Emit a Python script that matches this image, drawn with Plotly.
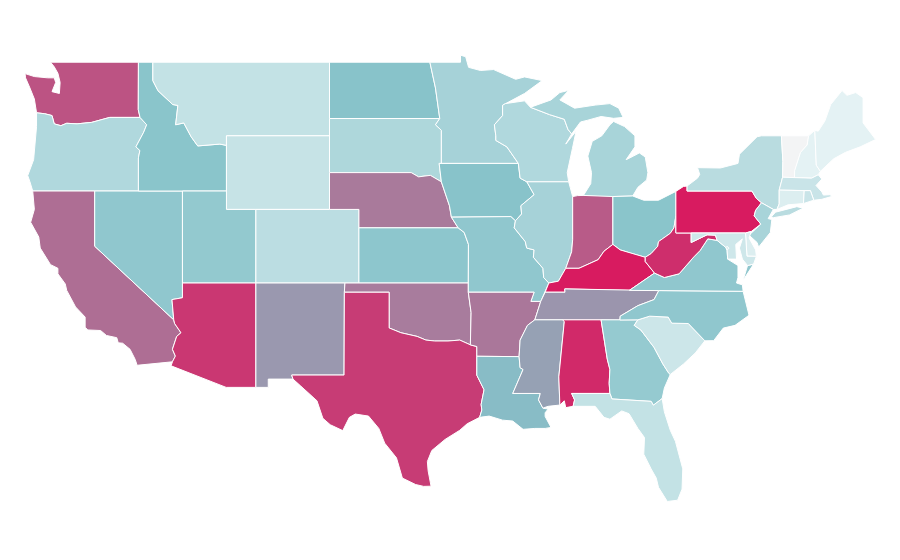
import plotly.graph_objects as go
from plotly.colors import sample_colorscale

# Map shade per state: 0 palest, 40 teal, 100 deepest pink
states = ['WA', 'OR', 'CA', 'NV', 'ID', 'MT', 'WY', 'UT', 'CO', 'AZ', 'NM', 'ND', 'SD', 'NE', 'KS', 'OK', 'TX',
          'MN', 'IA', 'MO', 'AR', 'LA', 'WI', 'IL', 'IN', 'MI', 'OH', 'KY', 'TN', 'MS', 'AL', 'GA', 'FL', 'SC',
          'NC', 'VA', 'WV', 'PA', 'NY', 'VT', 'NH', 'ME', 'MA', 'CT', 'RI', 'NJ', 'DE', 'MD', 'DC']
values = [80, 24, 70, 36, 38, 17, 16, 35, 20, 90, 55, 39, 25, 66, 37, 65, 88,
          28, 39, 36, 67, 42, 24, 28, 77, 27, 38, 100, 56, 52, 95, 34, 17, 14,
          36, 36, 93, 100, 21, 0, 5, 5, 15, 8, 15, 27, 8, 13, 8]

# Approximate state borders as (lon, lat) rings, since the map's own topojson can't be fetched offline
state_outlines = {
    'WA': [[(-123.0,49.0),(-117.03,49.0),(-117.04,46.42),(-116.92,46.0),(-118.98,46.0),(-119.3,45.93),(-120.2,45.73),(-121.2,45.65),(-121.9,45.68),(-122.3,45.55),(-122.75,45.65),(-122.9,46.1),(-123.4,46.2),(-123.95,46.25),(-124.05,46.7),(-124.1,47.0),(-124.4,47.6),(-124.7,48.15),(-124.73,48.38),(-124.1,48.22),(-123.2,48.15),(-122.75,48.15),(-122.65,47.9),(-122.9,47.4),(-122.4,47.3),(-122.35,47.9),(-122.5,48.4),(-122.75,48.75)]],
    'OR': [[(-123.95,46.25),(-123.4,46.2),(-122.9,46.1),(-122.75,45.65),(-122.3,45.55),(-121.9,45.68),(-121.2,45.65),(-120.2,45.73),(-119.3,45.93),(-118.98,46.0),(-116.92,46.0),(-116.47,45.6),(-116.67,45.2),(-117.2,44.4),(-116.93,44.2),(-117.03,43.8),(-117.03,42.0),(-124.21,42.0),(-124.4,42.5),(-124.55,42.84),(-124.15,43.7),(-124.05,44.7),(-123.95,45.5)]],
    'CA': [[(-124.21,42.0),(-120.0,42.0),(-120.0,39.0),(-114.63,35.0),(-114.57,34.8),(-114.14,34.3),(-114.43,34.1),(-114.72,33.4),(-114.52,33.03),(-114.72,32.72),(-117.12,32.53),(-117.25,32.85),(-117.6,33.4),(-118.1,33.73),(-118.4,33.75),(-118.5,34.03),(-119.2,34.15),(-119.6,34.42),(-120.47,34.45),(-120.65,34.6),(-120.65,35.15),(-121.3,35.7),(-121.9,36.6),(-122.0,36.95),(-122.5,37.5),(-122.5,37.8),(-123.0,38.0),(-123.7,38.9),(-123.8,39.5),(-124.35,40.3),(-124.1,41.0),(-124.2,41.75)]],
    'NV': [[(-120.0,42.0),(-114.04,42.0),(-114.04,36.2),(-114.75,36.1),(-114.63,35.0),(-120.0,39.0)]],
    'ID': [[(-117.03,49.0),(-116.05,49.0),(-116.05,48.0),(-115.7,47.45),(-114.7,46.7),(-114.35,46.65),(-114.5,45.6),(-113.95,45.7),(-113.45,44.95),(-113.0,44.45),(-111.5,44.55),(-111.05,44.48),(-111.05,42.0),(-114.04,42.0),(-117.03,42.0),(-117.03,43.8),(-116.93,44.2),(-117.2,44.4),(-116.67,45.2),(-116.47,45.6),(-116.92,46.0),(-117.04,46.42)]],
    'MT': [[(-116.05,49.0),(-104.05,49.0),(-104.05,45.0),(-111.05,45.0),(-111.05,44.48),(-111.5,44.55),(-113.0,44.45),(-113.45,44.95),(-113.95,45.7),(-114.5,45.6),(-114.35,46.65),(-114.7,46.7),(-115.7,47.45),(-116.05,48.0)]],
    'WY': [[(-111.05,45.0),(-104.05,45.0),(-104.05,41.0),(-111.05,41.0)]],
    'UT': [[(-114.04,42.0),(-111.05,42.0),(-111.05,41.0),(-109.05,41.0),(-109.05,37.0),(-114.04,37.0)]],
    'CO': [[(-109.05,41.0),(-102.05,41.0),(-102.05,37.0),(-109.05,37.0)]],
    'AZ': [[(-114.75,36.1),(-114.04,36.2),(-114.04,37.0),(-109.05,37.0),(-109.05,31.33),(-111.07,31.33),(-114.81,32.5),(-114.72,32.72),(-114.52,33.03),(-114.72,33.4),(-114.43,34.1),(-114.14,34.3),(-114.57,34.8),(-114.63,35.0)]],
    'NM': [[(-109.05,37.0),(-103.0,37.0),(-103.04,36.5),(-103.06,32.0),(-106.62,32.0),(-106.53,31.78),(-108.21,31.78),(-108.21,31.33),(-109.05,31.33)]],
    'ND': [[(-104.05,49.0),(-97.23,49.0),(-96.85,47.6),(-96.56,45.94),(-104.05,45.94)]],
    'SD': [[(-104.05,45.94),(-96.56,45.94),(-96.85,45.6),(-96.45,45.3),(-96.45,43.5),(-96.6,43.5),(-96.45,42.5),(-97.2,42.85),(-98.0,42.77),(-98.5,43.0),(-104.05,43.0)]],
    'NE': [[(-104.05,43.0),(-98.5,43.0),(-98.0,42.77),(-97.2,42.85),(-96.45,42.5),(-96.1,41.7),(-95.9,41.2),(-95.77,40.58),(-95.31,40.0),(-102.05,40.0),(-102.05,41.0),(-104.05,41.0)]],
    'KS': [[(-102.05,40.0),(-95.31,40.0),(-94.9,39.75),(-94.61,39.1),(-94.62,37.0),(-102.05,37.0)]],
    'OK': [[(-103.0,37.0),(-94.62,37.0),(-94.62,36.5),(-94.43,35.4),(-94.48,33.64),(-95.2,33.9),(-96.0,33.85),(-96.9,33.85),(-97.5,33.9),(-98.1,34.1),(-99.2,34.3),(-100.0,34.56),(-100.0,36.5),(-103.04,36.5)]],
    'TX': [[(-103.04,36.5),(-100.0,36.5),(-100.0,34.56),(-99.2,34.3),(-98.1,34.1),(-97.5,33.9),(-96.9,33.85),(-96.0,33.85),(-95.2,33.9),(-94.48,33.64),(-94.04,33.55),(-94.04,33.02),(-94.04,31.99),(-93.55,31.2),(-93.75,30.4),(-93.7,30.1),(-93.85,29.7),(-94.7,29.35),(-95.2,29.0),(-96.2,28.5),(-97.1,27.9),(-97.4,27.3),(-97.35,26.8),(-97.15,25.96),(-97.65,25.95),(-98.2,26.05),(-99.1,26.4),(-99.5,27.5),(-100.3,28.3),(-100.7,29.1),(-101.4,29.77),(-102.3,29.88),(-102.7,29.7),(-103.15,28.98),(-104.0,29.3),(-104.5,29.65),(-104.9,30.6),(-106.0,31.4),(-106.53,31.78),(-106.62,32.0),(-103.06,32.0)]],
    'MN': [[(-97.23,49.0),(-95.15,49.0),(-95.15,49.38),(-94.8,49.3),(-94.6,48.72),(-93.8,48.55),(-92.9,48.6),(-92.0,48.3),(-91.4,48.07),(-90.8,48.2),(-89.6,48.0),(-90.8,47.3),(-92.1,46.75),(-92.29,46.66),(-92.29,46.1),(-92.85,45.6),(-92.75,45.0),(-92.75,44.75),(-92.0,44.4),(-91.22,43.5),(-96.45,43.5),(-96.45,45.3),(-96.85,45.6),(-96.56,45.94),(-96.85,47.6)]],
    'IA': [[(-96.6,43.5),(-91.22,43.5),(-91.1,42.7),(-90.64,42.5),(-90.15,41.8),(-91.05,41.2),(-91.0,40.75),(-91.42,40.38),(-91.73,40.61),(-95.77,40.58),(-95.9,41.2),(-96.1,41.7),(-96.45,42.5)]],
    'MO': [[(-95.77,40.58),(-91.73,40.61),(-91.42,40.38),(-91.5,40.0),(-90.75,39.25),(-90.65,38.9),(-90.15,38.8),(-90.2,38.4),(-89.55,37.8),(-89.5,37.3),(-89.15,37.0),(-89.4,36.5),(-89.7,36.0),(-90.37,36.0),(-90.15,36.5),(-94.62,36.5),(-94.62,37.0),(-94.61,39.1),(-94.9,39.75),(-95.31,40.0)]],
    'AR': [[(-94.62,36.5),(-90.15,36.5),(-90.37,36.0),(-89.7,36.0),(-90.1,35.0),(-90.6,34.7),(-91.1,33.9),(-91.17,33.0),(-94.04,33.02),(-94.04,33.55),(-94.48,33.64),(-94.43,35.4)]],
    'LA': [[(-94.04,33.02),(-91.17,33.0),(-91.1,32.4),(-90.9,32.3),(-91.6,31.0),(-89.73,31.0),(-89.85,30.65),(-89.55,30.2),(-89.2,30.15),(-89.4,29.95),(-89.4,29.75),(-89.0,29.15),(-89.4,29.1),(-90.1,29.1),(-90.9,29.05),(-91.6,29.5),(-92.3,29.55),(-93.2,29.77),(-93.85,29.7),(-93.7,30.1),(-93.75,30.4),(-93.55,31.2),(-94.04,31.99)]],
    'MS': [[(-90.1,35.0),(-88.2,35.0),(-88.1,34.9),(-88.47,31.9),(-88.4,30.37),(-89.2,30.3),(-89.55,30.2),(-89.85,30.65),(-89.73,31.0),(-91.6,31.0),(-90.9,32.3),(-91.1,32.4),(-91.17,33.0),(-91.1,33.9),(-90.6,34.7)]],
    'AL': [[(-88.2,35.0),(-85.6,35.0),(-85.18,32.87),(-85.0,32.3),(-85.05,31.55),(-85.0,31.0),(-87.6,31.0),(-87.4,30.65),(-87.5,30.3),(-88.0,30.23),(-88.1,30.6),(-88.4,30.37),(-88.47,31.9),(-88.1,34.9)]],
    'TN': [[(-90.1,35.0),(-89.7,36.0),(-89.4,36.5),(-88.05,36.5),(-88.07,36.68),(-83.68,36.6),(-81.68,36.59),(-82.0,36.1),(-83.1,35.77),(-84.3,35.2),(-84.32,34.99),(-85.6,35.0),(-88.2,35.0)]],
    'KY': [[(-89.4,36.5),(-89.15,37.0),(-88.5,37.1),(-88.0,37.8),(-87.1,37.8),(-86.5,38.0),(-85.8,38.27),(-85.4,38.73),(-84.8,39.1),(-84.3,38.8),(-83.7,38.65),(-82.6,38.4),(-82.6,38.17),(-81.97,37.54),(-83.68,36.6),(-88.07,36.68),(-88.05,36.5)]],
    'IL': [[(-91.42,40.38),(-91.0,40.75),(-91.05,41.2),(-90.15,41.8),(-90.64,42.5),(-87.8,42.5),(-87.53,41.7),(-87.53,39.35),(-87.6,38.7),(-88.0,37.8),(-88.5,37.1),(-89.15,37.0),(-89.5,37.3),(-89.55,37.8),(-90.2,38.4),(-90.15,38.8),(-90.65,38.9),(-90.75,39.25),(-91.5,40.0)]],
    'IN': [[(-87.53,41.7),(-87.2,41.75),(-86.8,41.76),(-84.8,41.76),(-84.8,39.1),(-85.4,38.73),(-85.8,38.27),(-86.5,38.0),(-87.1,37.8),(-88.0,37.8),(-87.6,38.7),(-87.53,39.35)]],
    'OH': [[(-84.8,41.7),(-83.45,41.73),(-82.7,41.5),(-81.7,41.5),(-80.52,41.98),(-80.52,40.64),(-80.65,40.0),(-80.9,39.7),(-81.7,39.25),(-81.75,39.0),(-82.2,38.6),(-82.6,38.4),(-83.7,38.65),(-84.3,38.8),(-84.8,39.1)]],
    'MI': [[(-86.8,41.76),(-84.8,41.7),(-83.45,41.73),(-83.1,42.2),(-82.5,42.6),(-82.42,43.0),(-82.6,43.85),(-83.0,44.07),(-83.4,43.9),(-83.9,43.7),(-83.3,44.4),(-83.3,45.0),(-84.0,45.5),(-84.75,45.78),(-85.0,45.6),(-85.55,45.0),(-86.2,44.7),(-86.5,43.9),(-86.25,43.0),(-86.3,42.4)],
           [(-90.4,46.55),(-89.0,46.95),(-88.4,47.35),(-87.8,47.47),(-88.4,46.95),(-87.4,46.5),(-86.0,46.67),(-85.0,46.75),(-84.4,46.5),(-84.1,46.0),(-84.75,45.95),(-85.6,46.05),(-86.5,45.85),(-87.0,45.75),(-87.6,45.1),(-87.85,45.35),(-88.1,45.9),(-89.1,46.15)]],
    'WI': [[(-92.29,46.66),(-92.1,46.75),(-90.8,46.9),(-90.4,46.55),(-89.1,46.15),(-88.1,45.9),(-87.85,45.35),(-87.6,45.1),(-88.0,44.55),(-87.3,45.25),(-87.55,44.3),(-87.9,43.0),(-87.8,42.5),(-90.64,42.5),(-91.1,42.7),(-91.22,43.5),(-92.0,44.4),(-92.75,44.75),(-92.75,45.0),(-92.85,45.6),(-92.29,46.1)]],
    'GA': [[(-85.6,35.0),(-84.32,34.99),(-83.1,35.0),(-83.35,34.7),(-82.9,34.45),(-82.0,33.5),(-81.4,32.6),(-81.0,32.1),(-80.9,32.03),(-81.3,31.3),(-81.45,30.72),(-82.05,30.36),(-82.2,30.57),(-84.86,30.7),(-85.0,31.0),(-85.05,31.55),(-85.0,32.3),(-85.18,32.87)]],
    'FL': [[(-87.6,31.0),(-85.0,31.0),(-84.86,30.7),(-82.2,30.57),(-82.05,30.36),(-81.45,30.72),(-81.3,30.0),(-80.9,29.0),(-80.55,28.4),(-80.05,26.9),(-80.1,25.8),(-80.4,25.2),(-81.1,25.13),(-81.7,25.9),(-81.85,26.4),(-82.2,26.9),(-82.7,27.7),(-82.65,28.6),(-83.1,29.1),(-83.7,29.9),(-84.2,30.05),(-85.0,29.6),(-85.4,29.7),(-86.0,30.3),(-87.5,30.3),(-87.4,30.65)]],
    'SC': [[(-83.1,35.0),(-82.3,35.2),(-81.04,35.15),(-80.8,34.82),(-79.67,34.8),(-78.55,33.86),(-79.2,33.2),(-80.0,32.6),(-80.9,32.03),(-81.0,32.1),(-81.4,32.6),(-82.0,33.5),(-82.9,34.45),(-83.35,34.7)]],
    'NC': [[(-84.32,34.99),(-83.1,35.0),(-82.3,35.2),(-81.04,35.15),(-80.8,34.82),(-79.67,34.8),(-78.55,33.86),(-77.95,33.87),(-77.3,34.55),(-76.5,34.7),(-75.55,35.25),(-75.95,36.55),(-81.68,36.59),(-82.0,36.1),(-83.1,35.77),(-84.3,35.2)]],
    'VA': [[(-83.68,36.6),(-81.97,37.54),(-81.3,37.3),(-80.3,37.5),(-79.3,38.42),(-78.87,38.77),(-78.35,39.4),(-77.72,39.32),(-77.12,38.93),(-77.04,38.79),(-77.0,38.3),(-76.3,37.95),(-76.3,37.3),(-76.4,37.0),(-76.0,36.9),(-75.95,36.55),(-81.68,36.59)],
           [(-75.95,37.15),(-75.6,37.6),(-75.24,38.03),(-75.65,37.95)]],
    'WV': [[(-82.6,38.17),(-82.6,38.4),(-82.2,38.6),(-81.75,39.0),(-81.7,39.25),(-80.9,39.7),(-80.65,40.0),(-80.52,40.64),(-80.52,39.72),(-79.48,39.72),(-79.48,39.2),(-78.4,39.62),(-77.83,39.6),(-77.72,39.32),(-78.35,39.4),(-78.87,38.77),(-79.3,38.42),(-80.3,37.5),(-81.3,37.3),(-81.97,37.54)]],
    'PA': [[(-80.52,41.98),(-80.0,42.25),(-79.76,42.27),(-79.76,42.0),(-75.35,42.0),(-75.05,41.6),(-74.7,41.36),(-75.1,40.95),(-75.2,40.65),(-74.75,40.2),(-75.4,39.8),(-75.79,39.72),(-80.52,39.72)]],
    'NY': [[(-79.76,42.27),(-79.05,42.7),(-78.9,42.9),(-79.05,43.27),(-77.5,43.25),(-76.3,43.5),(-76.2,44.0),(-75.0,44.95),(-74.7,45.0),(-73.35,45.0),(-73.25,43.6),(-73.27,42.75),(-73.5,42.05),(-73.5,41.3),(-73.65,41.0),(-73.9,41.0),(-74.7,41.36),(-75.05,41.6),(-75.35,42.0),(-79.76,42.0)],
           [(-74.03,40.6),(-73.75,40.85),(-72.3,41.15),(-71.87,41.07),(-72.8,40.7),(-73.9,40.55)]],
    'VT': [[(-73.35,45.0),(-71.5,45.0),(-71.6,44.5),(-72.05,44.1),(-72.45,43.1),(-72.46,42.73),(-73.27,42.75),(-73.25,43.6)]],
    'NH': [[(-71.5,45.0),(-71.08,45.3),(-70.98,43.4),(-70.7,43.07),(-70.85,42.88),(-71.3,42.7),(-72.46,42.73),(-72.45,43.1),(-72.05,44.1),(-71.6,44.5)]],
    'ME': [[(-71.08,45.3),(-70.85,45.25),(-70.4,45.8),(-70.0,46.7),(-69.23,47.46),(-68.9,47.2),(-68.3,47.35),(-67.8,47.07),(-67.8,45.7),(-67.45,45.3),(-66.95,44.8),(-68.0,44.4),(-69.0,44.1),(-69.8,43.75),(-70.7,43.07),(-70.98,43.4)]],
    'MA': [[(-73.27,42.75),(-71.3,42.7),(-70.85,42.88),(-70.6,42.65),(-71.0,42.3),(-70.6,41.95),(-70.5,41.78),(-70.05,41.8),(-70.2,42.08),(-69.95,41.7),(-70.6,41.55),(-71.15,41.5),(-71.38,42.02),(-71.8,42.02),(-73.5,42.05)]],
    'CT': [[(-73.5,42.05),(-71.8,42.02),(-71.85,41.32),(-72.9,41.25),(-73.65,41.0),(-73.5,41.3)]],
    'RI': [[(-71.8,42.02),(-71.38,42.02),(-71.15,41.5),(-71.85,41.32)]],
    'NJ': [[(-74.7,41.36),(-73.9,41.0),(-74.25,40.5),(-74.0,40.45),(-74.1,39.75),(-74.9,38.95),(-75.0,39.2),(-75.55,39.6),(-74.75,40.2),(-75.2,40.65),(-75.1,40.95)]],
    'DE': [[(-75.79,39.72),(-75.4,39.8),(-75.55,39.45),(-75.1,38.8),(-75.05,38.45),(-75.69,38.46)]],
    'MD': [[(-79.48,39.72),(-75.79,39.72),(-75.69,38.46),(-75.05,38.45),(-75.24,38.03),(-75.65,37.95),(-76.0,38.3),(-76.2,38.9),(-76.0,39.4),(-76.45,39.1),(-76.4,38.3),(-77.0,38.3),(-77.04,38.79),(-77.12,38.93),(-77.72,39.32),(-77.83,39.6),(-78.4,39.62),(-79.48,39.2)]],
    'DC': [[(-77.12,38.93),(-77.04,39.0),(-76.91,38.89),(-77.04,38.79)]],
}

shade_scale = [[0, '#f3f4f5'], [0.05, '#e4f2f4'], [0.4, '#85c2c9'], [1, '#d81b60']]

fig = go.Figure()

# The reference is linear in lon and lat (even 18.4px per degree top to bottom), so plain axes, not geo
for state, value in zip(states, values):
    lons, lats = [], []
    for ring in state_outlines[state]:
        pts = ring + ring[:1]
        lons += [p[0] for p in pts] + [None]
        lats += [p[1] for p in pts] + [None]
    fig.add_trace(go.Scatter(
        x=lons[:-1],
        y=lats[:-1],
        mode='lines',
        fill='toself',
        fillcolor=sample_colorscale(shade_scale, value / 100)[0],
        line=dict(color='white', width=1),
        name=state,
        showlegend=False,
    ))

# Ranges are shifted 8px because the fixed-size page keeps the browser's body margin
fig.update_xaxes(visible=False, range=[-125.89, -64.75])
fig.update_yaxes(visible=False, range=[21.515, 51.945])

fig.update_layout(
    width=900,
    height=560,
    margin=dict(l=0, r=0, t=0, b=0),
    paper_bgcolor='white',
    plot_bgcolor='white',
)

fig.write_html("out.html")
